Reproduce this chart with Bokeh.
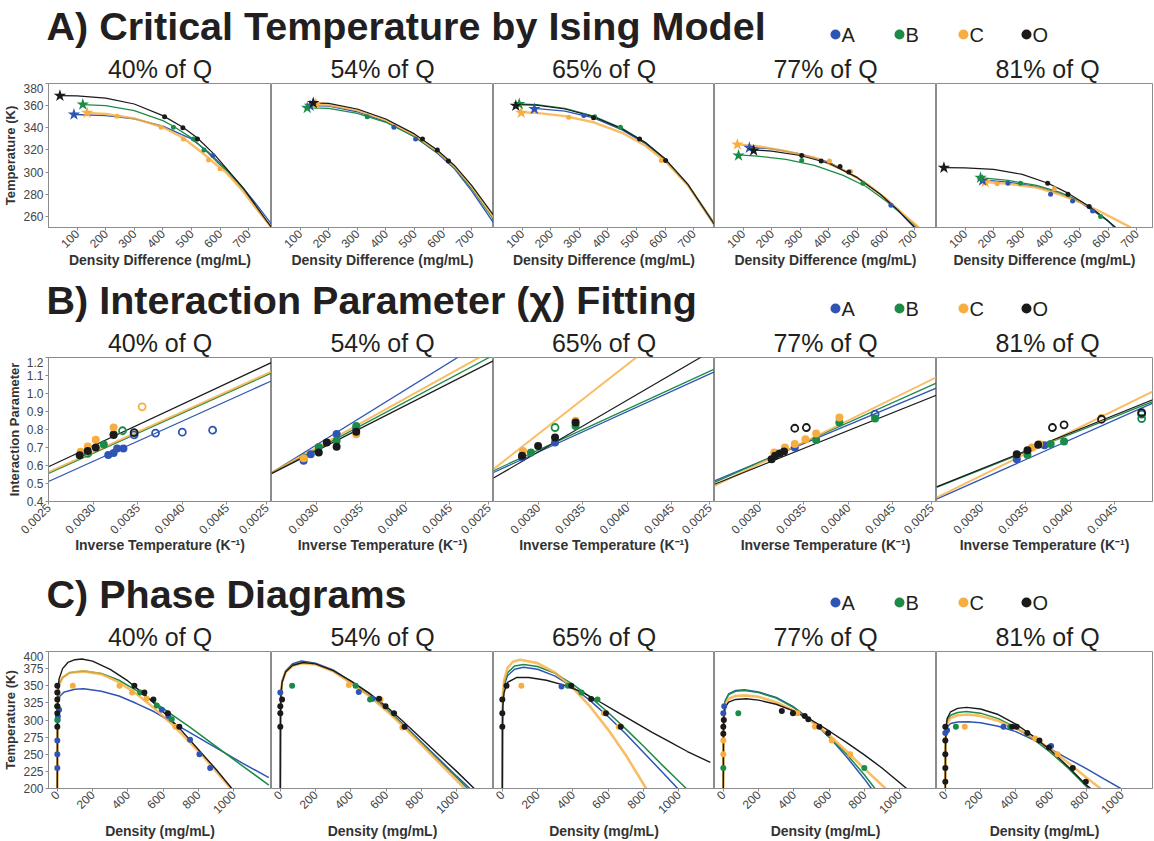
import math
from bokeh.plotting import figure
from bokeh.layouts import column, row
from bokeh.models import FixedTicker, Range1d, PrintfTickFormatter
from bokeh.embed import file_html
from bokeh.resources import INLINE
from bokeh.core.properties import value

SERIES = ["A", "B", "C", "O"]
SERIES_COLORS = ["#2F55B4", "#1B8C47", "#F8AD40", "#1A1A1A"]
PANEL_TITLES = ["40% of Q", "54% of Q", "65% of Q", "77% of Q", "81% of Q"]
ROW_TITLES = ["A) Critical Temperature by Ising Model",
              "B) Interaction Parameter (\u03c7) Fitting",
              "C) Phase Diagrams"]

# ---------------- Row A: critical temperature (Ising) ----------------
A_XTICKS = [100, 200, 300, 400, 500, 600, 700]
A_YTICKS = [260, 280, 300, 320, 340, 360, 380]

A40_STAR = {"A": (89, 352), "B": (120, 361), "C": (135, 353.5), "O": (40, 369)}
A40_PTS = {"A": ([575], [315]),
           "B": ([437, 507, 544], [340.5, 330, 320]),
           "C": ([240, 394, 472, 560, 600], [350.5, 340.5, 330, 311, 303]),
           "O": ([406, 470, 521], [350, 340, 330])}
A40_FIT = {"A": ([89, 200, 300, 400, 500, 560, 600, 620, 680, 730, 780], [352, 351, 348, 341.5, 330, 318, 308, 303, 286, 270, 253]),
           "B": ([120, 200, 300, 400, 440, 505, 545, 590, 620, 680, 730, 785], [361, 360, 355.5, 346.5, 341, 330, 320.5, 309, 302, 285, 267, 248]),
           "C": ([135, 200, 300, 400, 470, 540, 590, 620, 680, 730, 780], [353.5, 352.5, 348.5, 340.5, 331, 317, 306, 300, 283, 266, 250]),
           "O": ([40, 100, 200, 300, 400, 470, 520, 580, 620, 680, 730, 780], [369, 368.8, 366.8, 361.5, 351, 340.5, 331, 316, 304, 286, 268, 250])}

A54_STAR = {"A": (135, 360), "B": (125, 358), "C": (155, 361.5), "O": (146, 362.5)}
A54_PTS = {"A": ([428, 504], [340.5, 330]),
           "B": ([335], [350]),
           "C": ([], []),
           "O": ([528, 580, 619], [330, 320, 310])}
A54_FIT = {"A": ([135, 200, 300, 400, 500, 580, 640, 700, 780], [360, 359.5, 354.5, 345.5, 332, 317, 303, 283, 253]),
           "B": ([125, 200, 300, 400, 500, 580, 640, 700, 780], [358, 357.5, 353, 345, 332, 318, 304, 285, 256]),
           "C": ([155, 200, 300, 400, 500, 580, 640, 700, 780], [361, 360.5, 356, 347, 333.5, 319, 305, 287, 258]),
           "O": ([146, 200, 300, 400, 500, 580, 640, 700, 780], [362.5, 362, 357, 348, 334.5, 320, 306, 288, 260])}

A65_STAR = {"A": (143, 357), "B": (90, 361.5), "C": (97, 353.5), "O": (78, 360)}
A65_PTS = {"A": ([316], [351]),
           "B": ([354, 444], [350, 340.5]),
           "C": ([263, 587], [349.6, 310.4]),
           "O": ([350, 511, 602], [349, 330, 310.5])}
A65_FIT = {"A": ([143, 250, 350, 450, 530, 600, 680, 780], [357.5, 355, 349, 338, 326, 311, 288, 249]),
           "B": ([90, 150, 250, 350, 450, 530, 600, 680, 780], [361.5, 361, 357.5, 350.5, 339.5, 327, 312, 289, 251]),
           "C": ([97, 150, 250, 350, 450, 530, 600, 680, 780], [354, 353.5, 350.5, 345, 335.5, 324, 310, 288, 250]),
           "O": ([78, 150, 250, 350, 450, 530, 600, 680, 780], [361, 360.5, 357, 350, 339, 327, 312, 289, 250])}

A77_STAR = {"A": (122, 322), "B": (84, 315), "C": (80, 325), "O": (137, 319.5)}
A77_PTS = {"A": ([617], [270]),
           "B": ([305, 519], [310.4, 290]),
           "C": ([402, 476], [310, 300.5]),
           "O": ([305, 373, 439, 470], [315, 310, 305, 300])}
A77_FIT = {"A": ([122, 200, 300, 400, 500, 580, 640, 700], [322.5, 321, 316.5, 309, 295, 280, 266, 250]),
           "B": ([84, 150, 250, 350, 450, 530, 600, 660, 710], [315.5, 314.5, 311.5, 306, 297, 287, 274, 261, 250]),
           "C": ([80, 150, 250, 350, 450, 530, 600, 660, 715], [325, 323.5, 319, 313, 302, 290, 276, 262, 250]),
           "O": ([137, 200, 300, 400, 500, 580, 640, 700], [320, 319, 315, 308, 295, 280, 266, 250])}

A81_STAR = {"A": (161, 292.5), "B": (154, 295), "C": (170, 291), "O": (26, 304)}
A81_PTS = {"A": ([250, 399, 476, 546], [290, 280, 274, 265]),
           "B": ([294, 574], [290, 260]),
           "C": ([212, 412], [289.4, 285]),
           "O": ([389, 460, 534], [290, 280, 269])}
A81_FIT = {"A": ([161, 250, 350, 430, 500, 560, 600, 622], [293, 291, 287, 281, 273, 263, 256, 250]),
           "B": ([154, 250, 350, 430, 500, 560, 600, 625], [295, 292.5, 288, 282, 274, 264, 256, 250]),
           "C": ([170, 250, 350, 430, 500, 560, 620, 680], [291, 289.5, 286, 280, 273, 266, 258, 250]),
           "O": ([26, 100, 200, 300, 390, 460, 535, 590, 627], [304, 303.8, 302.5, 298, 290, 281, 269, 258, 250])}

# ---------------- Row B: interaction parameter fitting ----------------
B_XTICKS = [0.0025, 0.0030, 0.0035, 0.0040, 0.0045]
B_YTICKS = [0.4, 0.5, 0.6, 0.7, 0.8, 0.9, 1.0, 1.1, 1.2]
B_LINE_X = [0.0025, 0.0050]

B40_LINE = {"A": [0.511, 1.070], "B": [0.556, 1.114], "C": [0.563, 1.122], "O": [0.593, 1.172]}
B40_FILLED = {"A": ([0.00317, 0.00323, 0.00327, 0.00334], [0.659, 0.669, 0.694, 0.694]),
              "B": ([0.00312, 0.00323], [0.717, 0.774]),
              "C": ([0.00286, 0.00294, 0.00303, 0.00323], [0.676, 0.706, 0.743, 0.811]),
              "O": ([0.00285, 0.00294, 0.00303, 0.00323], [0.657, 0.681, 0.700, 0.770])}
B40_OPEN = {"A": ([0.00346, 0.00370, 0.00400, 0.00434], [0.770, 0.780, 0.785, 0.796]),
            "B": ([0.00294, 0.00333], [0.667, 0.793]),
            "C": ([0.00355], [0.926]),
            "O": ([0.00346], [0.783])}

B54_LINE = {"A": [0.560, 1.327], "B": [0.558, 1.216], "C": [0.560, 1.247], "O": [0.555, 1.185]}
B54_FILLED = {"A": ([0.00286, 0.00294, 0.00323, 0.00345], [0.626, 0.663, 0.775, 0.806]),
              "B": ([0.00286, 0.00303, 0.00323, 0.00345], [0.645, 0.703, 0.737, 0.820]),
              "C": ([0.00286, 0.00345], [0.640, 0.774]),
              "O": ([0.00303, 0.00312, 0.00323, 0.00345], [0.672, 0.728, 0.704, 0.787])}
B54_OPEN = {"A": ([], []), "B": ([], []), "C": ([], []), "O": ([], [])}

B65_LINE = {"A": [0.561, 1.126], "B": [0.571, 1.141], "C": [0.580, 1.549], "O": [0.530, 1.252]}
B65_FILLED = {"A": ([0.00282, 0.00319], [0.644, 0.728]),
              "B": ([0.00292, 0.00342], [0.672, 0.820]),
              "C": ([0.00283, 0.00342], [0.681, 0.848]),
              "O": ([0.00282, 0.00300, 0.00319, 0.00342], [0.654, 0.709, 0.756, 0.839])}
B65_OPEN = {"A": ([], []), "B": ([0.00319], [0.811]), "C": ([], []), "O": ([], [])}

B77_LINE = {"A": [0.515, 1.033], "B": [0.506, 1.061], "C": [0.487, 1.093], "O": [0.496, 0.993]}
B77_FILLED = {"A": ([0.00340], [0.700]),
              "B": ([0.00364, 0.00390, 0.00430], [0.741, 0.839, 0.861]),
              "C": ([0.00317, 0.00329, 0.00340, 0.00352, 0.00364, 0.00390], [0.672, 0.700, 0.719, 0.746, 0.778, 0.867]),
              "O": ([0.00314, 0.00318, 0.00323, 0.00328], [0.635, 0.654, 0.667, 0.678])}
B77_OPEN = {"A": ([0.00430], [0.885]), "B": ([], []), "C": ([], []),
            "O": ([0.00340, 0.00353], [0.807, 0.811])}

B81_LINE = {"A": [0.413, 0.963], "B": [0.478, 0.970], "C": [0.422, 1.030], "O": [0.481, 0.980]}
B81_FILLED = {"A": ([0.00340, 0.00371], [0.635, 0.713]),
              "B": ([0.00352, 0.00378, 0.00393], [0.659, 0.719, 0.733]),
              "C": ([0.00357, 0.00365], [0.700, 0.720]),
              "O": ([0.00340, 0.00352, 0.00364], [0.663, 0.685, 0.715])}
B81_OPEN = {"A": ([0.00480], [0.885]), "B": ([0.00480], [0.861]), "C": ([0.00435], [0.862]),
            "O": ([0.00380, 0.00393, 0.00435, 0.00480], [0.811, 0.826, 0.857, 0.894])}

# ---------------- Row C: phase diagrams ----------------
C_XTICKS = [0, 200, 400, 600, 800, 1000]
C_YTICKS = [200, 225, 250, 275, 300, 325, 350, 375, 400]

C40_PTS = {"A": ([0, 0, 0, 2, 3, 10, 593, 630, 753, 806, 867], [230, 250, 270, 300, 305, 315, 315, 306, 271, 250, 230]),
           "B": ([0, 0, 470, 564, 649], [300, 320, 340, 321, 301]),
           "C": ([2, 88, 353, 424, 506, 670], [340, 350, 350, 340, 331, 290]),
           "O": ([0, 0, 0, 0, 0, 0, 437, 494, 545, 627, 692], [290, 310, 320, 330, 340, 350, 350, 340, 330, 310, 290])}
C40_FIT = {"A": ([0, 0.5, 1.5, 5, 15, 40, 100, 150, 250, 350, 450, 550, 650, 750, 850, 950, 1050, 1200],
                 [200, 250, 300, 325, 335, 341, 345, 345.5, 342, 335, 324, 312, 297, 282, 267, 252, 237, 216]),
           "B": ([0, 1, 3, 10, 30, 70, 150, 250, 350, 450, 550, 650, 750, 850, 950, 1050, 1200],
                 [200, 300, 335, 352, 362, 369, 371.5, 368, 358, 343, 326, 308, 290, 271, 252, 233, 205]),
           "C": ([0, 1, 3, 10, 30, 70, 150, 250, 350, 450, 550, 650, 750, 850, 985],
                 [200, 300, 335, 352, 362, 369, 371, 367, 355, 338, 317, 294, 268, 240, 200]),
           "O": ([0, 1, 3, 10, 30, 60, 100, 140, 200, 300, 400, 500, 600, 700, 800, 900, 990],
                 [200, 300, 340, 360, 375, 384, 388, 389, 386, 374, 357, 336, 312, 286, 257, 228, 200])}

C54_PTS = {"A": ([0, 445, 522], [340, 341, 331]),
           "B": ([67, 427, 509], [350, 350, 330]),
           "C": ([389, 569, 692], [351, 330, 289]),
           "O": ([0, 0, 0, 10, 560, 597, 645, 705], [290, 310, 320, 330, 331, 320, 310, 290])}
C54_FIT = {"A": ([0, 1, 3, 10, 30, 70, 120, 200, 300, 400, 500, 600, 700, 800, 900, 1000, 1075],
                 [200, 300, 337, 357, 372, 382, 386, 383, 373, 356, 338, 317, 293, 268, 243, 218, 200]),
           "B": ([0, 1, 3, 10, 30, 70, 120, 200, 300, 400, 500, 600, 700, 800, 900, 1000, 1062],
                 [200, 300, 336, 356, 371, 380, 384, 382, 372, 355, 337, 316, 292, 267, 241, 216, 200]),
           "C": ([0, 1, 3, 10, 30, 70, 120, 200, 300, 400, 500, 600, 700, 800, 900, 1000, 1045],
                 [200, 300, 335, 355, 370, 379, 383, 381, 371, 354, 336, 314, 290, 264, 238, 212, 200]),
           "O": ([0, 1, 3, 10, 30, 70, 130, 200, 300, 400, 500, 600, 700, 800, 900, 1000, 1100],
                 [200, 300, 335, 355, 370, 380, 384, 382, 372, 357, 340, 320, 297, 273, 249, 225, 200])}

C65_PTS = {"A": ([336], [349]),
           "B": ([372, 449, 540], [350, 340, 330]),
           "C": ([108, 576, 660], [350, 310, 290]),
           "O": ([0, 0, 0, 24, 391, 504, 588, 672], [290, 310, 330, 350, 350, 330.6, 310, 290])}
C65_FIT = {"A": ([0, 1, 3, 10, 30, 70, 120, 200, 300, 400, 500, 600, 700, 800, 900, 995],
                 [200, 300, 330, 350, 365, 374, 377, 374, 364, 348, 328, 305, 280, 253, 226, 200]),
           "B": ([0, 1, 3, 10, 30, 70, 120, 200, 300, 400, 500, 600, 700, 800, 900, 1000, 1044],
                 [200, 300, 332, 354, 369, 379, 381, 378, 368, 352, 333, 311, 287, 262, 236, 211, 200]),
           "C": ([0, 1, 3, 10, 30, 60, 100, 200, 300, 400, 500, 600, 700, 816],
                 [200, 300, 335, 358, 376, 385, 388, 383, 369, 347, 319, 286, 249, 200]),
           "O": ([0, 1, 3, 10, 30, 80, 150, 250, 350, 450, 550, 650, 750, 850, 950, 1050, 1180],
                 [200, 290, 320, 340, 355, 362, 362, 358, 351, 341, 327, 312, 297, 282, 268, 254, 238])}

C77_PTS = {"A": ([0, 5], [310, 320]),
           "B": ([0, 85, 800], [230, 310, 230]),
           "C": ([0, 0, 420, 520, 615, 720], [250, 270, 310, 290, 270, 250]),
           "O": ([0, 0, 3, 332, 395, 462, 482, 545, 595], [280, 290, 300, 313, 310, 306, 301, 290, 281])}
C77_FIT = {"A": ([0, 1, 3, 10, 30, 70, 120, 200, 300, 400, 500, 600, 700, 800, 840],
                 [200, 280, 310, 328, 338, 343, 344, 341, 333, 319, 299, 275, 246, 214, 200]),
           "B": ([0, 1, 3, 10, 30, 70, 120, 200, 300, 400, 500, 600, 700, 800, 860],
                 [200, 280, 310, 327, 337, 342, 343, 340, 332, 318, 299, 276, 250, 220, 200]),
           "C": ([0, 1, 3, 10, 30, 70, 120, 200, 300, 400, 500, 600, 700, 800, 920],
                 [200, 280, 305, 322, 331, 335, 336, 334, 326, 314, 298, 278, 254, 229, 200]),
           "O": ([0, 1, 3, 10, 30, 70, 130, 200, 300, 400, 500, 600, 700, 800, 900, 1040],
                 [200, 280, 305, 318, 326, 330, 331, 329, 323, 313, 300, 284, 267, 249, 230, 200])}

C81_PTS = {"A": ([0, 10, 330, 600], [281, 285, 290, 262]),
           "B": ([60, 368], [290, 290]),
           "C": ([110, 510, 637], [290, 273, 250]),
           "O": ([0, 0, 0, 0, 0, 380, 405, 465, 534, 588, 723, 797], [210, 230, 250, 270, 290, 290, 290, 281, 270, 260, 230, 210])}
C81_FIT = {"A": ([0, 1, 3, 10, 30, 70, 130, 200, 300, 400, 500, 600, 700, 800, 900, 995],
                 [200, 260, 280, 290, 295, 297, 297.5, 296, 291, 283, 271, 257, 243, 229, 214, 200]),
           "B": ([0, 1, 3, 10, 30, 70, 120, 200, 300, 400, 500, 600, 700, 800, 812],
                 [200, 260, 283, 298, 307, 311, 312.5, 310, 302, 289, 272, 252, 229, 203, 200]),
           "C": ([0, 1, 3, 10, 30, 70, 130, 200, 300, 400, 500, 600, 700, 800, 880],
                 [200, 260, 282, 295, 303, 307, 308, 306, 299, 288, 274, 257, 237, 216, 200]),
           "O": ([0, 1, 3, 10, 30, 70, 120, 200, 300, 400, 500, 600, 700, 800, 825],
                 [200, 260, 285, 302, 312, 317, 318.5, 316, 308, 294, 276, 255, 231, 205, 200])}

# ---------------- layout constants ----------------
SANS = "Liberation Sans"
FRAME_W = [223, 222, 221, 222, 216]
PANEL_CX = [159.5, 382, 603.5, 825, 1047]
FULL_W = 223.0
HEADER_H = 83
FRAME_H = 144
COLOR = dict(zip(SERIES, SERIES_COLORS))
LINE_W = {"A": 1.3, "B": 1.3, "C": 2.4, "O": 1.2}
LINE_A = {"A": 1.0, "B": 1.0, "C": 0.8, "O": 1.0}
TXT = "#231f20"


def header(title):
    h = HEADER_H
    p = figure(width=1154, height=h, x_range=Range1d(0, 1154), y_range=Range1d(h, 0),
               output_backend="svg", toolbar_location=None, min_border=0,
               outline_line_color=None, x_axis_location=None, y_axis_location=None)
    p.grid.visible = False
    p.text(x=[46], y=[25], text=[title], text_font=value(SANS), text_font_style="bold",
           text_font_size="39.5px", text_baseline="middle", text_color=TXT)
    p.scatter(x=[835, 899, 963, 1026], y=[34] * 4, size=10, color=SERIES_COLORS, line_color=None)
    p.text(x=[841, 905, 969, 1032], y=[34] * 4, text=SERIES, text_font=value(SANS),
           text_font_size="20px", text_baseline="middle", text_color=TXT)
    p.text(x=PANEL_CX, y=[68] * 5, text=PANEL_TITLES, text_font=value(SANS),
           text_font_size="25px", text_align="center", text_baseline="middle", text_color=TXT)
    return p


def panel(k, xr, yr, xticks, yticks, xlabel, ylabel, bottom, xfmt=None, yfmt=None,
          lab_off=2, edge_label=None):
    left = 48 if k == 0 else 0
    right = 2 if k == 4 else 0
    fw = FRAME_W[k]
    x0, x1 = xr
    x1k = x0 + (x1 - x0) * fw / FULL_W
    p = figure(width=left + fw + right, height=FRAME_H + bottom,
               x_range=Range1d(x0, x1k), y_range=Range1d(*yr),
               min_border_left=left, min_border_right=right, min_border_top=0,
               min_border_bottom=bottom, output_backend="svg", toolbar_location=None,
               outline_line_color="#8c8c8c", outline_line_width=1,
               y_axis_location="left" if k == 0 else None)
    p.grid.visible = False
    xa = p.xaxis[0]
    ticks = list(xticks)
    overrides = {}
    if edge_label is not None:
        # the label of a panel's first tick sits on the shared edge: draw it from the left neighbour
        if k > 0:
            ticks = ticks[1:]
        if k < 4:
            end_tick = x1k - (x1k - x0) * 0.022
            ticks.append(end_tick)
            overrides[end_tick] = edge_label
    xa.ticker = FixedTicker(ticks=ticks)
    if xfmt:
        xa.formatter = PrintfTickFormatter(format=xfmt)
    if overrides:
        xa.major_label_overrides = overrides
    xa.major_label_orientation = math.pi / 4
    xa.axis_label = xlabel
    xa.axis_label_text_font = SANS
    xa.axis_label_text_font_style = "bold"
    xa.axis_label_text_font_size = "14px"
    xa.axis_label_text_color = "#333333"
    xa.axis_label_standoff = lab_off
    xa.major_label_text_font = SANS
    xa.major_label_text_font_size = "12px"
    xa.major_label_text_color = "#444444"
    xa.major_label_standoff = 1
    xa.minor_tick_line_color = None
    xa.major_tick_out = 3
    xa.major_tick_in = 0
    xa.axis_line_color = "#8c8c8c"
    xa.major_tick_line_color = "#8c8c8c"
    if k == 0:
        ya = p.yaxis[0]
        ya.ticker = FixedTicker(ticks=yticks)
        if yfmt:
            ya.formatter = PrintfTickFormatter(format=yfmt)
        ya.axis_label = ylabel
        ya.axis_label_text_font = SANS
        ya.axis_label_text_font_style = "bold"
        ya.axis_label_text_font_size = "13px"
        ya.axis_label_text_color = "#333333"
        ya.axis_label_standoff = 2
        ya.major_label_text_font = SANS
        ya.major_label_text_font_size = "12px"
        ya.major_label_text_color = "#444444"
        ya.major_label_standoff = 2
        ya.minor_tick_line_color = None
        ya.major_tick_out = 3
        ya.major_tick_in = 0
        ya.axis_line_color = "#8c8c8c"
        ya.major_tick_line_color = "#8c8c8c"
    return p


# ---------------- build rows ----------------
A_DATA = [(A40_STAR, A40_PTS, A40_FIT), (A54_STAR, A54_PTS, A54_FIT), (A65_STAR, A65_PTS, A65_FIT),
          (A77_STAR, A77_PTS, A77_FIT), (A81_STAR, A81_PTS, A81_FIT)]
B_DATA = [(B40_LINE, B40_FILLED, B40_OPEN), (B54_LINE, B54_FILLED, B54_OPEN), (B65_LINE, B65_FILLED, B65_OPEN),
          (B77_LINE, B77_FILLED, B77_OPEN), (B81_LINE, B81_FILLED, B81_OPEN)]
C_DATA = [(C40_PTS, C40_FIT), (C54_PTS, C54_FIT), (C65_PTS, C65_FIT), (C77_PTS, C77_FIT), (C81_PTS, C81_FIT)]

row_a = []
for k, (star, pts, fit) in enumerate(A_DATA):
    p = panel(k, (0, 780), (250, 380), A_XTICKS, A_YTICKS, "Density Difference (mg/mL)",
              "Temperature (K)", 47, lab_off=-3)
    for s in SERIES:
        p.line(fit[s][0], fit[s][1], line_color=COLOR[s], line_width=LINE_W[s], line_alpha=LINE_A[s])
    for s in SERIES:
        p.scatter(pts[s][0], pts[s][1], size=5, color=COLOR[s], line_color=None)
    for s in ["C", "A", "B", "O"]:
        p.scatter([star[s][0]], [star[s][1]], marker="star", size=13, color=COLOR[s], line_color=None)
    row_a.append(p)

row_b = []
for k, (lines, filled, opened) in enumerate(B_DATA):
    p = panel(k, (0.0025, 0.0050), (0.4, 1.2), B_XTICKS, B_YTICKS, "Inverse Temperature (K\u207b\u00b9)",
              "Interaction Parameter", 67, xfmt="%.4f", yfmt="%.1f", lab_off=-4, edge_label="0.0025")
    for s in SERIES:
        p.line(B_LINE_X, lines[s], line_color=COLOR[s], line_width=LINE_W[s] if s != "C" else 2.0,
               line_alpha=LINE_A[s])
    for s in SERIES:
        p.scatter(opened[s][0], opened[s][1], size=7, fill_color="white", fill_alpha=0.0,
                  line_color=COLOR[s], line_width=1.8)
        p.scatter(filled[s][0], filled[s][1], size=8, color=COLOR[s], line_color=None)
    row_b.append(p)

row_c = []
for k, (pts, fit) in enumerate(C_DATA):
    p = panel(k, (-50, 1215), (200, 400), C_XTICKS, C_YTICKS, "Density (mg/mL)",
              "Temperature (K)", 46, lab_off=2)
    for s in SERIES:
        p.line(fit[s][0], fit[s][1], line_color=COLOR[s], line_width=LINE_W[s] + 0.2, line_alpha=LINE_A[s])
    for s in SERIES:
        p.scatter(pts[s][0], pts[s][1], size=6, color=COLOR[s], line_color=None)
    row_c.append(p)

layout = column(header(ROW_TITLES[0]), row(*row_a, spacing=0),
                header(ROW_TITLES[1]), row(*row_b, spacing=0),
                header(ROW_TITLES[2]), row(*row_c, spacing=0), spacing=0)

open("out.html", "w").write(file_html(layout, INLINE))
